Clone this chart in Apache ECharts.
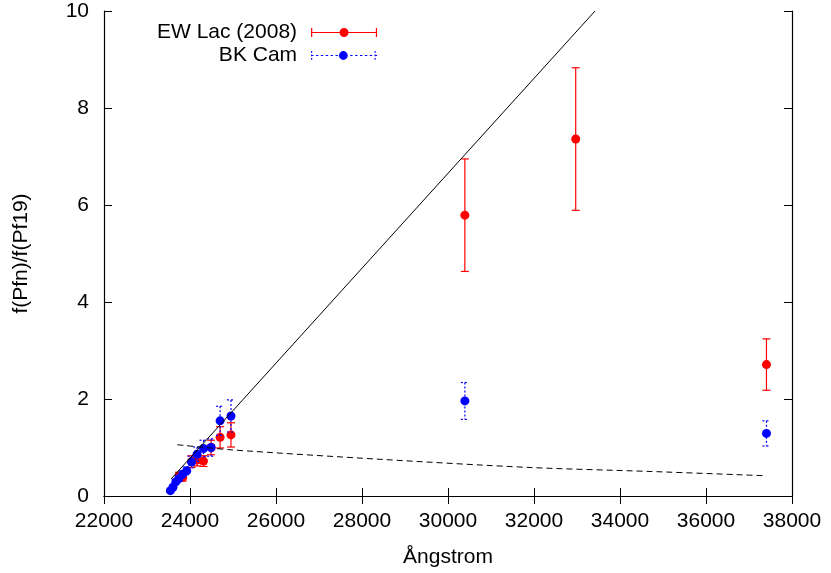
<!DOCTYPE html>
<html>
<head>
<meta charset="utf-8">
<script src="https://cdn.jsdelivr.net/npm/echarts@6/dist/echarts.min.js"></script>
<style>html,body{margin:0;padding:0;background:#fff}#c{width:831px;height:573px}</style>
</head>
<body>
<div id="c"></div>
<script>
// ---- data ----
// EW Lac (2008): wavelength (Å), ratio, error
const ewX   = [24953, 24700, 24491, 24314, 24164, 24036, 23829, 23744, 30392, 32970, 37406];
const ewY   = [1.26, 1.21, 1.00, 0.72, 0.74, 0.71, 0.38, 0.41, 5.79, 7.36, 2.71];
const ewErr = [0.25, 0.22, 0.15, 0.11, 0.12, 0.12, 0.07, 0.08, 1.16, 1.47, 0.53];
// BK Cam
const bkX   = [24953, 24700, 24491, 24314, 24164, 24036, 23925, 23829, 23744, 23670, 23604, 23545, 30392, 37406];
const bkY   = [1.65, 1.55, 1.00, 0.98, 0.86, 0.70, 0.52, 0.45, 0.36, 0.29, 0.18, 0.11, 1.96, 1.29];
const bkErr = [0.33, 0.30, 0.18, 0.17, 0.15, 0.12, 0.08, 0.07, 0.06, 0.05, 0.04, 0.03, 0.38, 0.26];
// solid straight line
const fitX = [23558, 33420];
const fitY = [0.35, 10.0];
// dashed curve
const modX = [23705, 24930, 28419, 31907, 34698, 37412];
const modY = [1.057, 0.954, 0.757, 0.588, 0.506, 0.417];
// axes
const xTicks = [22000, 24000, 26000, 28000, 30000, 32000, 34000, 36000, 38000];
const yTicks = [0, 2, 4, 6, 8, 10];
const names = ['EW Lac (2008)', 'BK Cam'];

// ---- build ----
const FONT = 'Liberation Sans';
const zip3 = (a, b, c) => a.map((v, i) => [v, b[i], c[i]]);
const zip2 = (a, b) => a.map((v, i) => [v, b[i]]);

function errRender(color, dash) {
  return function (params, api) {
    const x = api.value(0), y = api.value(1), e = api.value(2);
    const t = api.coord([x, y + e]);
    const b = api.coord([x, y - e]);
    const hw = 4;
    const style = { stroke: color, lineWidth: 1.2, fill: null, lineDash: dash };
    return {
      type: 'group',
      children: [
        { type: 'line', shape: { x1: t[0], y1: t[1], x2: b[0], y2: b[1] }, style: style },
        { type: 'line', shape: { x1: t[0] - hw, y1: t[1], x2: t[0] + hw, y2: t[1] }, style: style },
        { type: 'line', shape: { x1: b[0] - hw, y1: b[1], x2: b[0] + hw, y2: b[1] }, style: style }
      ]
    };
  };
}

const circ = 'M28.5,4.5A4.5,4.5 0 1,1 37.5,4.5A4.5,4.5 0 1,1 28.5,4.5Z';
const redIcon = 'path://M0,3.9h66v1.2h-66z M0,0h1.2v9h-1.2z M64.8,0h1.2v9h-1.2z ' + circ;
let bluePath = '';
for (let i = 0; i < 66; i += 5) bluePath += 'M' + i + ',3.9h2.4v1.2h-2.4z ';
for (let j = 0; j < 9; j += 3.5) bluePath += 'M0,' + j + 'h1.2v1.8h-1.2z M64.8,' + j + 'h1.2v1.8h-1.2z ';
const blueIcon = 'path://' + bluePath + circ;

const xMin = xTicks[0], xMax = xTicks[xTicks.length - 1], xInt = xTicks[1] - xTicks[0];
const yMin = yTicks[0], yMax = yTicks[yTicks.length - 1], yInt = yTicks[1] - yTicks[0];

const axLine = { show: true, lineStyle: { color: '#000', width: 1.2 } };
const axTick = { show: true, inside: true, length: 8, lineStyle: { color: '#000', width: 1 } };

const chart = echarts.init(document.getElementById('c'), null, { renderer: 'canvas' });
chart.setOption({
  animation: false,
  backgroundColor: '#fff',
  textStyle: { fontFamily: FONT },
  grid: { left: 104, right: 39, top: 11, bottom: 77, containLabel: false },
  legend: {
    orient: 'vertical',
    left: 157, top: 22,
    padding: 0,
    align: 'right',
    itemWidth: 66, itemHeight: 9,
    itemGap: 2,
    selectedMode: false,
    textStyle: { fontSize: 21, fontFamily: FONT, color: '#000', width: 155, align: 'right', padding: [0, 9, 0, 0] },
    data: [
      { name: names[0], icon: redIcon },
      { name: names[1], icon: blueIcon }
    ]
  },
  xAxis: [
    {
      type: 'value', min: xMin, max: xMax, interval: xInt,
      name: 'Ångstrom', nameLocation: 'middle', nameGap: 51,
      nameTextStyle: { fontSize: 21, fontFamily: FONT, color: '#000' },
      axisLine: axLine, axisTick: axTick, splitLine: { show: false },
      axisLabel: { fontSize: 21, fontFamily: FONT, color: '#000', margin: 15, formatter: v => String(v) }
    },
    {
      type: 'value', position: 'top', min: xMin, max: xMax, interval: xInt,
      axisLine: axLine, axisTick: axTick, splitLine: { show: false },
      axisLabel: { show: false }
    }
  ],
  yAxis: [
    {
      type: 'value', min: yMin, max: yMax, interval: yInt,
      name: 'f(Pfn)/f(Pf19)', nameLocation: 'middle', nameGap: 72, nameRotate: 90,
      nameTextStyle: { fontSize: 21, fontFamily: FONT, color: '#000' },
      axisLine: axLine, axisTick: axTick, splitLine: { show: false },
      axisLabel: { fontSize: 21, fontFamily: FONT, color: '#000', margin: 15 }
    },
    {
      type: 'value', position: 'right', min: yMin, max: yMax, interval: yInt,
      axisLine: axLine, axisTick: axTick, splitLine: { show: false },
      axisLabel: { show: false }
    }
  ],
  series: [
    {
      name: 'ewErr', type: 'custom', xAxisIndex: 0, yAxisIndex: 0, z: 2,
      renderItem: errRender('#ff0000', null),
      encode: { x: 0, y: 1 },
      data: zip3(ewX, ewY, ewErr)
    },
    {
      name: names[0], type: 'scatter', z: 3, symbol: 'circle', symbolSize: 9,
      itemStyle: { color: '#ff0000', opacity: 1 },
      data: zip2(ewX, ewY)
    },
    {
      name: 'bkErr', type: 'custom', xAxisIndex: 0, yAxisIndex: 0, z: 4,
      renderItem: errRender('#0000ff', [2, 2]),
      encode: { x: 0, y: 1 },
      data: zip3(bkX, bkY, bkErr)
    },
    {
      name: names[1], type: 'scatter', z: 5, symbol: 'circle', symbolSize: 9,
      itemStyle: { color: '#0000ff', opacity: 1 },
      data: zip2(bkX, bkY)
    },
    {
      name: 'fit', type: 'line', z: 6, showSymbol: false, symbol: 'none', silent: true,
      lineStyle: { color: '#000', width: 1 },
      data: zip2(fitX, fitY)
    },
    {
      name: 'model', type: 'line', z: 6, showSymbol: false, symbol: 'none', silent: true, smooth: 0.3,
      lineStyle: { color: '#000', width: 1, type: [6, 4] },
      data: zip2(modX, modY)
    }
  ]
});
</script>
</body>
</html>
